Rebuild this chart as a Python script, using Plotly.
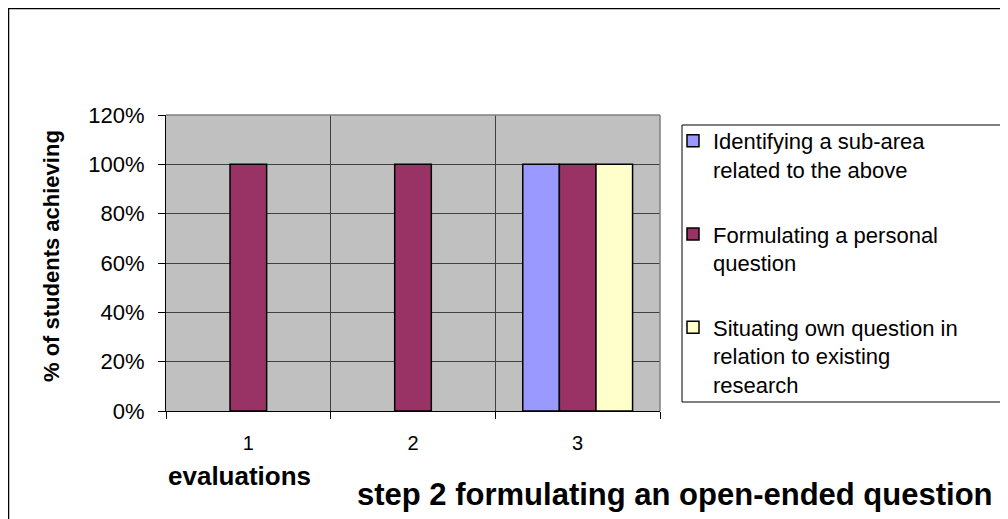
import plotly.graph_objects as go

categories = [1, 2, 3]
tick_labels = ["1", "2", "3"]
series_names = [
    "Identifying a sub-area<br>related to the above",
    "Formulating a personal<br>question",
    "Situating own question in<br>relation to existing<br>research",
]
sub_area = [None, None, 1.0]
personal_question = [1.0, 1.0, 1.0]
situating = [None, None, 1.0]
y_ticks = [0, 0.2, 0.4, 0.6, 0.8, 1.0, 1.2]

colors = ["#9999FF", "#993366", "#FFFFCC"]
values = [sub_area, personal_question, situating]

FONT = "Liberation Sans, Arial, sans-serif"

fig = go.Figure()
for i, (name, vals) in enumerate(zip(series_names, values)):
    fig.add_trace(go.Bar(
        x=categories, y=vals, name=name,
        marker=dict(color=colors[i], line=dict(color="black", width=1.5)),
        legendgroup=f"g{i}",
    ))

OFF = 8  # page body margin
W, H = 1008, 519
L, T = 166 - OFF, 115 - OFF
pw, ph = 494, 296
R = W - L - pw
B = H - T - ph

def px_x(p):
    return (p - OFF - L) / pw

def px_y(p):
    return (T + ph - (p - OFF)) / ph

fig.update_layout(
    width=W, height=H,
    margin=dict(l=L, r=R, t=T, b=B, autoexpand=False),
    paper_bgcolor="white",
    plot_bgcolor="#C0C0C0",
    barmode="group",
    bargap=0.333,
    bargroupgap=0,
    font=dict(family=FONT, color="black"),
    showlegend=True,
    legend=dict(
        x=px_x(673), y=px_y(120), xanchor="left", yanchor="top",
        borderwidth=0, bgcolor="rgba(0,0,0,0)",
        font=dict(size=22, family=FONT, color="black"),
        tracegroupgap=33, traceorder="grouped", maxheight=450,
        valign="top",
    ),
    xaxis=dict(
        range=[0.5, 3.5], tickvals=categories, ticktext=tick_labels,
        showgrid=False, ticks="", showline=True, linecolor="black", linewidth=1,
        tickfont=dict(size=20, family=FONT), ticklabelstandoff=14,
        minor=dict(tick0=0.5, dtick=1, showgrid=True, gridcolor="#404040",
                   gridwidth=1, ticks="outside", ticklen=7, tickcolor="black"),
        zeroline=False,
    ),
    yaxis=dict(
        range=[0, 1.2], tickvals=y_ticks, tickformat=".0%",
        showgrid=True, gridcolor="#404040", gridwidth=1,
        ticks="outside", ticklen=7, tickcolor="black",
        showline=True, linecolor="black", linewidth=1,
        tickfont=dict(size=22, family=FONT), ticklabelstandoff=9,
        zeroline=False,
    ),
    shapes=[
        dict(type="line", xref="paper", yref="paper", x0=0, x1=1, y0=1, y1=1,
             line=dict(color="#808080", width=1.5)),
        dict(type="line", xref="paper", yref="paper", x0=1, x1=1, y0=0, y1=1,
             line=dict(color="#808080", width=1.5)),
        dict(type="rect", xref="paper", yref="paper",
             x0=px_x(8), x1=px_x(1040), y0=px_y(540), y1=px_y(8),
             line=dict(color="black", width=2.5), fillcolor="rgba(0,0,0,0)"),
        dict(type="rect", xref="paper", yref="paper",
             x0=px_x(682), x1=px_x(1040), y0=px_y(402), y1=px_y(125),
             line=dict(color="black", width=1), fillcolor="white"),
    ],
    annotations=[
        dict(text="<b>% of students achieving</b>", textangle=-90,
             xref="paper", yref="paper", x=px_x(51), y=px_y(256),
             xanchor="center", yanchor="middle",
             showarrow=False, font=dict(size=22, family=FONT)),
        dict(text="<b>evaluations</b>", xref="paper", yref="paper",
             x=px_x(239), y=px_y(476), xanchor="center", yanchor="middle",
             showarrow=False, font=dict(size=26, family=FONT)),
        dict(text="<b>step 2 formulating an open-ended question</b>",
             xref="paper", yref="paper", x=px_x(675), y=px_y(494),
             xanchor="center", yanchor="middle",
             showarrow=False, font=dict(size=31, family=FONT)),
    ],
)

fig.write_html("out.html")
